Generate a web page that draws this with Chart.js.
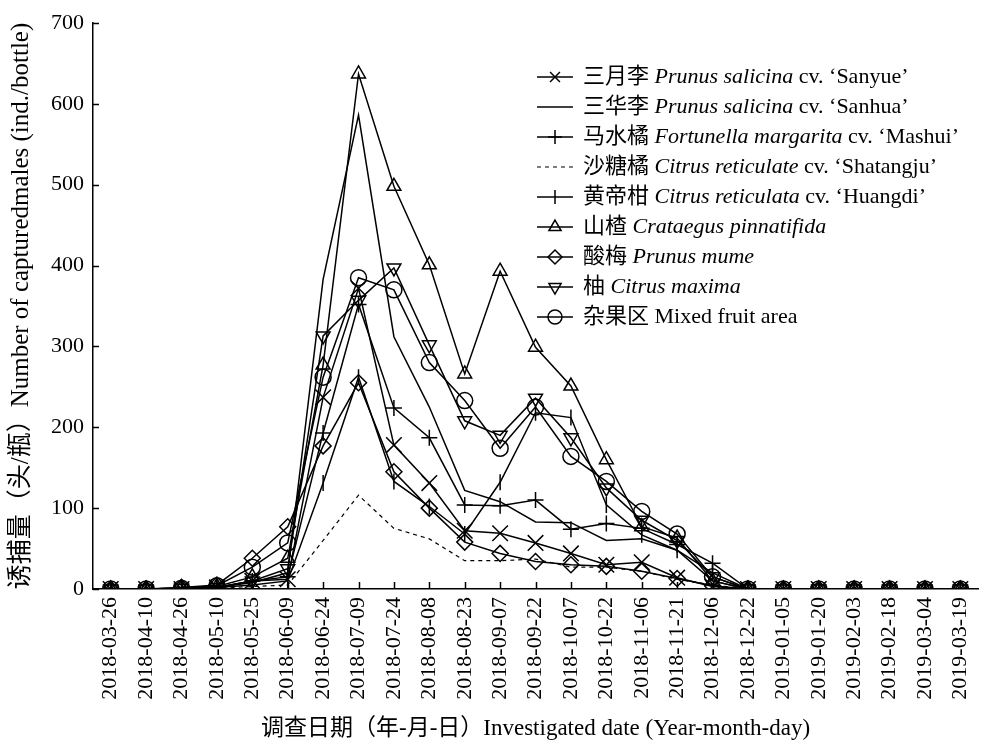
<!DOCTYPE html>
<html>
<head>
<meta charset="utf-8">
<script src="https://cdn.jsdelivr.net/npm/chart.js@4.4.0/dist/chart.umd.min.js"></script>
<style>
  html, body { margin: 0; padding: 0; background: #fff; }
</style>
</head>
<body>
<canvas id="chart" width="995" height="745"></canvas>
<script>
// 调查日期
const dates = ['2018-03-26', '2018-04-10', '2018-04-26', '2018-05-10', '2018-05-25', '2018-06-09',
  '2018-06-24', '2018-07-09', '2018-07-24', '2018-08-08', '2018-08-23', '2018-09-07', '2018-09-22',
  '2018-10-07', '2018-10-22', '2018-11-06', '2018-11-21', '2018-12-06', '2018-12-22', '2019-01-05',
  '2019-01-20', '2019-02-03', '2019-02-18', '2019-03-04', '2019-03-19'];

// 各果园诱捕量（头/瓶）
const sanyue    = [0, 0, 0, 2, 10, 12, 237, 372, 178, 131, 72, 69, 57, 44, 30, 33, 14, 3, 0, 0, 0, 0, 0, 0, 0];
const sanhua    = [0, 0, 0, 2, 8, 20, 383, 586, 312, 225, 122, 108, 83, 82, 60, 62, 48, 10, 0, 0, 0, 0, 0, 0, 0];
const mashui    = [0, 0, 1, 2, 10, 15, 193, 352, 224, 187, 104, 103, 110, 74, 81, 75, 55, 32, 0, 0, 0, 0, 0, 0, 0];
const shatangju = [0, 0, 0, 1, 3, 5, 60, 116, 75, 62, 35, 35, 37, 27, 27, 22, 12, 5, 0, 0, 0, 0, 0, 0, 0];
const huangdi   = [0, 0, 0, 2, 5, 10, 131, 262, 133, 102, 68, 132, 218, 212, 104, 67, 48, 20, 0, 0, 0, 0, 0, 0, 0];
const shanzha   = [0, 0, 1, 3, 15, 38, 277, 637, 498, 401, 266, 393, 299, 251, 160, 77, 63, 10, 0, 0, 0, 0, 0, 0, 0];
const suanmei   = [0, 0, 2, 5, 38, 77, 177, 255, 145, 100, 58, 44, 34, 30, 28, 22, 13, 4, 0, 0, 0, 0, 0, 0, 0];
const you       = [0, 0, 1, 2, 10, 25, 313, 357, 397, 302, 208, 190, 236, 187, 125, 85, 60, 15, 0, 0, 0, 0, 0, 0, 0];
const zaguo     = [0, 0, 1, 4, 27, 57, 262, 385, 370, 280, 233, 174, 225, 164, 133, 96, 68, 15, 0, 0, 0, 0, 0, 0, 0];

// 图例文字: [中文名, 学名(斜体), 品种]
const legendCn  = ['三月李', '三华李', '马水橘', '沙糖橘', '黄帝柑', '山楂', '酸梅', '柚', '杂果区'];
const legendSci = ['Prunus salicina', 'Prunus salicina', 'Fortunella margarita', 'Citrus reticulate',
  'Citrus reticulata', 'Crataegus pinnatifida', 'Prunus mume', 'Citrus maxima', ''];
const legendCv  = [' cv. \u2018Sanyue\u2019', ' cv. \u2018Sanhua\u2019', ' cv. \u2018Mashui\u2019',
  ' cv. \u2018Shatangju\u2019', ' cv. \u2018Huangdi\u2019', '', '', '', 'Mixed fruit area'];

const yTicks = [0, 100, 200, 300, 400, 500, 600, 700];

const FONT = "'Liberation Serif', 'Times New Roman', 'Noto Sans CJK SC', serif";
const FS = 22;

function mk(label, data, style, radius, rotation, dash) {
  return {
    label: label,
    data: data,
    borderColor: '#000',
    borderWidth: dash ? 1.2 : 1.5,
    borderDash: dash ? [4, 4] : [],
    pointStyle: style,
    pointRadius: style ? radius : 0,
    pointRotation: rotation,
    pointBorderColor: '#000',
    pointBackgroundColor: 'rgba(0,0,0,0)',
    pointBorderWidth: 1.5,
    fill: false,
    tension: 0
  };
}

const datasets = [
  mk('三月李', sanyue, 'crossRot', 11, 0, false),
  mk('三华李', sanhua, false, 0, 0, false),
  mk('马水橘', mashui, 'cross', 8, 0, false),
  mk('沙糖橘', shatangju, false, 0, 0, true),
  mk('黄帝柑', huangdi, 'line', 8, 90, false),
  mk('山楂', shanzha, 'triangle', 8, 0, false),
  mk('酸梅', suanmei, 'rectRot', 8, 0, false),
  mk('柚', you, 'triangle', 8, 180, false),
  mk('杂果区', zaguo, 'circle', 8, 0, false)
];

// 坐标轴内侧刻度
const innerTicks = {
  id: 'innerTicks',
  afterDraw(chart) {
    const ctx = chart.ctx;
    const x = chart.scales.x, y = chart.scales.y;
    const a = chart.chartArea;
    ctx.save();
    ctx.strokeStyle = '#000';
    ctx.lineWidth = 1.5;
    ctx.beginPath();
    yTicks.forEach(v => {
      const py = Math.round(y.getPixelForValue(v)) + 0.5;
      ctx.moveTo(a.left, py);
      ctx.lineTo(a.left + 6, py);
    });
    dates.forEach((d, i) => {
      const px = Math.round(x.getPixelForValue(i)) + 0.5;
      ctx.moveTo(px, a.bottom);
      ctx.lineTo(px, a.bottom - 7);
    });
    ctx.stroke();
    ctx.restore();
  }
};

// 自定义图例（学名斜体）
const customLegend = {
  id: 'customLegend',
  afterDraw(chart) {
    const ctx = chart.ctx;
    ctx.save();
    datasets.forEach((ds, i) => {
      const y = 77 + i * 30;
      ctx.strokeStyle = '#000';
      ctx.lineWidth = ds.borderWidth;
      ctx.setLineDash(ds.borderDash);
      ctx.beginPath();
      ctx.moveTo(537, y);
      ctx.lineTo(573, y);
      ctx.stroke();
      ctx.setLineDash([]);
      if (ds.pointStyle) {
        ctx.fillStyle = 'rgba(0,0,0,0)';
        ctx.lineWidth = 1.5;
        Chart.helpers.drawPoint(ctx, {
          pointStyle: ds.pointStyle,
          rotation: ds.pointRotation,
          radius: Math.min(ds.pointRadius, 7),
          borderWidth: 1.5
        }, 555, y);
      }
      ctx.fillStyle = '#000';
      ctx.textBaseline = 'middle';
      let tx = 583;
      ctx.font = FS + 'px ' + FONT;
      const cn = legendCn[i] + ' ';
      ctx.fillText(cn, tx, y);
      tx += ctx.measureText(cn).width;
      if (legendSci[i]) {
        ctx.font = 'italic ' + FS + 'px ' + FONT;
        ctx.fillText(legendSci[i], tx, y);
        tx += ctx.measureText(legendSci[i]).width;
      }
      ctx.font = FS + 'px ' + FONT;
      ctx.fillText(legendCv[i], tx, y);
    });
    ctx.restore();
  }
};

new Chart(document.getElementById('chart').getContext('2d'), {
  type: 'line',
  data: { labels: dates, datasets: datasets },
  plugins: [innerTicks, customLegend],
  options: {
    responsive: false,
    animation: false,
    devicePixelRatio: 1,
    layout: { padding: { top: 23, right: 6, left: 0, bottom: 0 } },
    plugins: { legend: { display: false }, tooltip: { enabled: false } },
    scales: {
      x: {
        offset: true,
        grid: { display: false, drawTicks: false },
        border: { color: '#000', width: 1.5 },
        ticks: {
          autoSkip: false, minRotation: 90, maxRotation: 90, padding: 8,
          color: '#000', font: { family: FONT, size: FS }
        },
        title: {
          display: true,
          text: '调查日期（年-月-日）Investigated date (Year-month-day)',
          color: '#000', font: { family: FONT, size: 23 }, padding: { top: 0, bottom: 2 }
        },
        afterFit(scale) { scale.height = 156; }
      },
      y: {
        min: 0, max: 700,
        grid: { display: false, drawTicks: false },
        border: { color: '#000', width: 1.5 },
        ticks: {
          stepSize: 100, padding: 9,
          color: '#000', font: { family: FONT, size: FS }
        },
        title: {
          display: true,
          text: '诱捕量（头/瓶）Number of capturedmales (ind./bottle)',
          color: '#000', font: { family: FONT, size: 25 }, padding: { top: 6, bottom: 0 }
        },
        afterFit(scale) { scale.width = 93; }
      }
    }
  }
});
</script>
</body>
</html>
